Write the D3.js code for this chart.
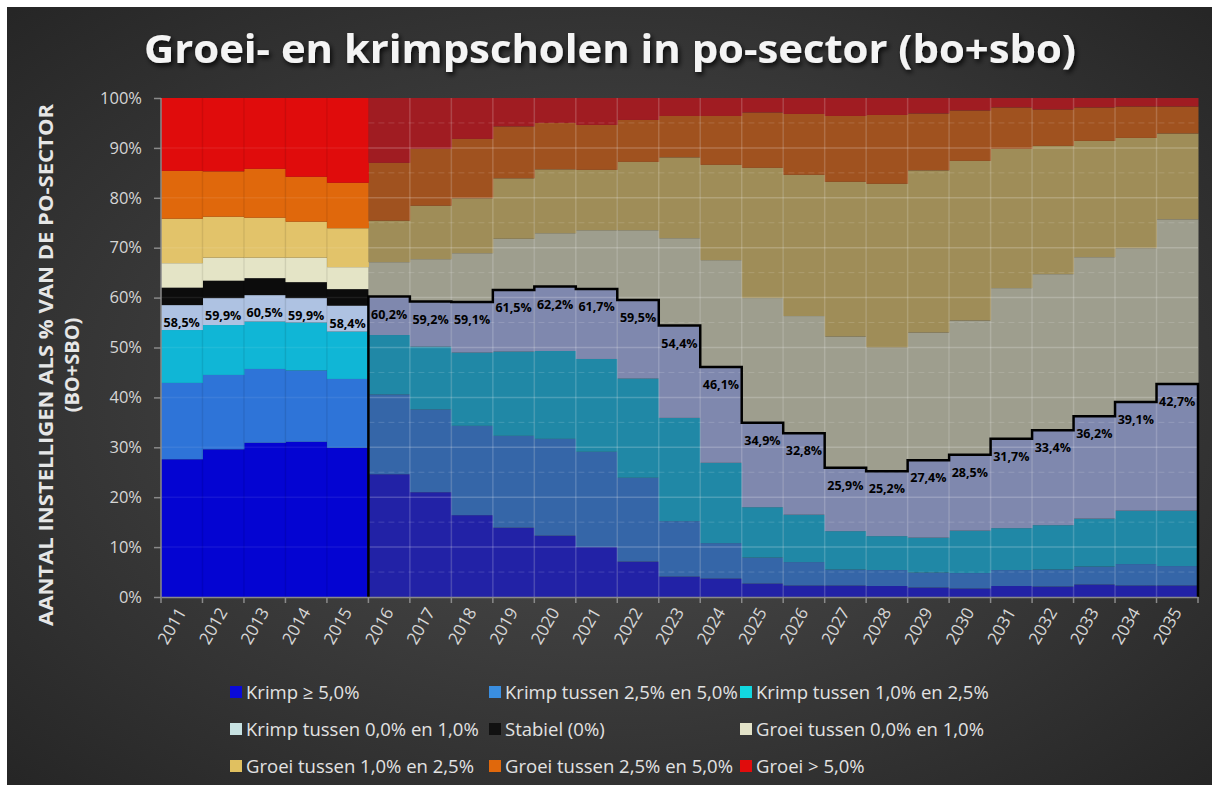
<!DOCTYPE html>
<html>
<head>
<meta charset="utf-8">
<script src="https://cdn.jsdelivr.net/npm/d3@7"></script>
<style>
  html, body { margin: 0; padding: 0; background: #fff; }
  svg { display: block; }
</style>
</head>
<body>
<div id="chart"></div>
<script>
// years 2011-2015 are measured, 2016-2035 are projections
var years = d3.range(2011, 2036).map(String);
var firstPrognose = "2016";

// share of schools per category (% of po-sector), bottom to top
var krimp5   = [27.6, 29.6, 30.9, 31.1, 29.9, 24.6, 21.0, 16.4, 13.9, 12.3, 10.0, 7.1, 4.1, 3.7, 2.7, 2.3, 2.3, 2.2, 1.9, 1.7, 2.2, 2.1, 2.5, 2.3, 2.3];
var krimp25  = [15.3, 14.9, 14.8, 14.3, 13.8, 16.0, 16.6, 17.9, 18.4, 19.4, 19.1, 16.8, 11.1, 7.1, 5.2, 4.7, 3.2, 3.2, 3.0, 3.1, 3.2, 3.4, 3.6, 4.3, 3.9];
var krimp1   = [10.6, 10.0, 9.5, 9.6, 9.5, 11.9, 12.6, 14.7, 16.9, 17.6, 18.6, 19.9, 20.7, 16.1, 10.1, 9.5, 7.7, 6.8, 7.0, 8.5, 8.4, 8.9, 9.6, 10.7, 11.1];
var krimp0   = [5.0, 5.4, 5.3, 4.9, 5.2, 7.7, 9.0, 10.1, 12.3, 12.9, 14.0, 15.7, 18.5, 19.2, 16.9, 16.3, 12.7, 13.0, 15.5, 15.2, 17.9, 19.0, 20.5, 21.8, 25.4];
var stabiel  = [3.5, 3.5, 3.4, 3.2, 3.3, 0, 0, 0, 0, 0, 0, 0, 0, 0, 0, 0, 0, 0, 0, 0, 0, 0, 0, 0, 0];
var groei0   = [4.9, 4.6, 4.1, 4.9, 4.4, 6.9, 8.5, 9.8, 10.3, 10.7, 11.8, 14.0, 17.5, 21.4, 25.0, 23.5, 26.3, 24.8, 25.6, 26.9, 30.2, 31.3, 31.9, 30.8, 33.0];
var groei1   = [8.9, 8.2, 8.0, 7.2, 7.8, 8.3, 10.7, 11.0, 12.1, 12.8, 12.1, 13.7, 16.2, 19.1, 26.1, 28.3, 31.0, 32.8, 32.5, 32.0, 27.9, 25.7, 23.3, 22.1, 17.2];
var groei25  = [9.6, 9.1, 9.8, 9.0, 9.1, 11.6, 11.4, 11.9, 10.4, 9.3, 9.0, 8.4, 8.3, 9.8, 11.1, 12.2, 13.2, 13.8, 11.4, 10.1, 8.3, 7.3, 6.7, 6.3, 5.4];
var groei5   = [14.6, 14.7, 14.2, 15.8, 17.0, 13.0, 10.2, 8.2, 5.7, 5.0, 5.4, 4.4, 3.6, 3.6, 2.9, 3.2, 3.6, 3.4, 3.1, 2.5, 1.9, 2.3, 1.9, 1.7, 1.7];

// total krimp, shown as label
var krimpTotaal = [58.5, 59.9, 60.5, 59.9, 58.4, 60.2, 59.2, 59.1, 61.5, 62.2, 61.7, 59.5, 54.4, 46.1, 34.9, 32.8, 25.9, 25.2, 27.4, 28.5, 31.7, 33.4, 36.2, 39.1, 42.7];

var keys = ["krimp5", "krimp25", "krimp1", "krimp0", "stabiel", "groei0", "groei1", "groei25", "groei5"];
var labels = ["Krimp \u2265 5,0%", "Krimp tussen 2,5% en 5,0%", "Krimp tussen 1,0% en 2,5%",
              "Krimp tussen 0,0% en 1,0%", "Stabiel (0%)", "Groei tussen 0,0% en 1,0%",
              "Groei tussen 1,0% en 2,5%", "Groei tussen 2,5% en 5,0%", "Groei > 5,0%"];
var yTicks = [0, 10, 20, 30, 40, 50, 60, 70, 80, 90, 100];

var colorsReal  = ["#0404d2", "#2e74d8", "#10b6d6", "#aec2e2", "#0c0c0c", "#e4e4c6", "#e2c36a", "#e0680c", "#e00c0c"];
var colorsProg  = ["#2222a6", "#3566a8", "#2088a6", "#7f88ae", "#222222", "#9e9e8e", "#9f8d58", "#a0521f", "#a01c22"];
var colorsLegend = ["#0a0ad8", "#3a8ee0", "#12d8e0", "#c8e2e2", "#111111", "#e2e2c8", "#e0c060", "#e0680c", "#e00c0c"];

var series = [krimp5, krimp25, krimp1, krimp0, stabiel, groei0, groei1, groei25, groei5];
var table = years.map(function (y, i) {
  var row = { year: y };
  keys.forEach(function (k, j) { row[k] = series[j][i]; });
  return row;
});

var W = 1212, H = 785;
var svg = d3.select("#chart").append("svg").attr("width", W).attr("height", H);

var defs = svg.append("defs");
var grad = defs.append("radialGradient").attr("id", "bg")
  .attr("cx", "50%").attr("cy", "50%").attr("r", "70%");
grad.append("stop").attr("offset", "0%").attr("stop-color", "#505050");
grad.append("stop").attr("offset", "100%").attr("stop-color", "#262626");

var shadow = defs.append("filter").attr("id", "shadow").attr("x", "-5%").attr("y", "-30%").attr("width", "110%").attr("height", "160%");
shadow.append("feDropShadow").attr("dx", 2).attr("dy", 3).attr("stdDeviation", 2.5)
  .attr("flood-color", "#000").attr("flood-opacity", 0.8);

svg.append("rect").attr("x", 7).attr("y", 7).attr("width", W - 7).attr("height", H - 7).attr("fill", "url(#bg)");

svg.append("text")
  .attr("x", 610).attr("y", 63)
  .attr("text-anchor", "middle")
  .attr("textLength", 932).attr("lengthAdjust", "spacingAndGlyphs")
  .style("font-family", "'Open Sans', sans-serif").style("font-weight", "bold").style("font-size", "39px")
  .style("fill", "#f4f4f4").attr("filter", "url(#shadow)")
  .text("Groei- en krimpscholen in po-sector (bo+sbo)");

var x = d3.scaleBand().domain(years).range([161, 1198]).padding(0);
var y = d3.scaleLinear().domain([0, 100]).range([597, 98]);

var stacked = d3.stack().keys(keys)(table);

var g = svg.append("g");
stacked.forEach(function (layer, j) {
  g.selectAll(".bar" + j)
    .data(layer)
    .enter().append("rect")
    .attr("x", function (d) { return x(d.data.year); })
    .attr("width", x.bandwidth() + 0.5)
    .attr("y", function (d) { return y(d[1]); })
    .attr("height", function (d) { return y(d[0]) - y(d[1]); })
    .attr("fill", function (d) { return d.data.year < firstPrognose ? colorsReal[j] : colorsProg[j]; });
});

// gridlines over bars
var xProg = x(firstPrognose), xEnd = x.range()[1], xStart = x.range()[0];
var grid = svg.append("g");
yTicks.slice(1, -1).forEach(function (t) {
  grid.append("line").attr("x1", xStart).attr("x2", xProg).attr("y1", y(t)).attr("y2", y(t))
    .attr("stroke", "#fff").attr("stroke-opacity", 0.07).attr("stroke-width", 1.5);
  grid.append("line").attr("x1", xProg).attr("x2", xEnd).attr("y1", y(t)).attr("y2", y(t))
    .attr("stroke", "#fff").attr("stroke-opacity", 0.2).attr("stroke-width", 1.5);
  grid.append("line").attr("x1", xProg).attr("x2", xEnd).attr("y1", y(t + 5)).attr("y2", y(t + 5))
    .attr("stroke", "#fff").attr("stroke-opacity", 0.15).attr("stroke-dasharray", "6,4");
});
grid.append("line").attr("x1", xProg).attr("x2", xEnd).attr("y1", y(5)).attr("y2", y(5))
  .attr("stroke", "#fff").attr("stroke-opacity", 0.15).attr("stroke-dasharray", "6,4");
years.forEach(function (yr) {
  if (yr === years[0] || yr === firstPrognose) return;
  var prog = yr > firstPrognose;
  grid.append("line").attr("x1", x(yr)).attr("x2", x(yr)).attr("y1", y(100)).attr("y2", y(0))
    .attr("stroke", prog ? "#fff" : "#000").attr("stroke-opacity", prog ? 0.18 : 0.08).attr("stroke-width", 1.5);
});

// black step line round the krimp part of the prognose
var progIdx = years.indexOf(firstPrognose);
var pts = [[xProg, y(0)]];
for (var i = progIdx; i < years.length; i++) {
  pts.push([x(years[i]), y(krimpTotaal[i])]);
  pts.push([x(years[i]) + x.bandwidth(), y(krimpTotaal[i])]);
}
pts.push([xEnd, y(0)]);
svg.append("path")
  .attr("d", d3.line()(pts))
  .attr("fill", "none").attr("stroke", "#000").attr("stroke-width", 2.5);

// labels
svg.append("g").selectAll("text")
  .data(years)
  .enter().append("text")
  .attr("x", function (d) { return x(d) + x.bandwidth() / 2; })
  .attr("y", function (d, i) { return y(krimpTotaal[i]) + 22; })
  .attr("text-anchor", "middle")
  .style("font-family", "'Open Sans', sans-serif").style("font-weight", "bold").style("font-size", "12.5px")
  .style("fill", "#000")
  .text(function (d, i) { return d3.format(".1f")(krimpTotaal[i]).replace(".", ",") + "%"; });

// axes
var yAxis = svg.append("g").attr("transform", "translate(" + xStart + ",0)")
  .call(d3.axisLeft(y).tickValues(yTicks).tickSize(7).tickPadding(12).tickFormat(function (d) { return d + "%"; }));
var xAxis = svg.append("g").attr("transform", "translate(0," + y(0) + ")")
  .call(d3.axisBottom(x).tickSize(0).tickFormat(""));
xAxis.selectAll(".tickmark").data(years.concat(["end"])).enter().append("line")
  .attr("x1", function (d) { return d === "end" ? xEnd : x(d); })
  .attr("x2", function (d) { return d === "end" ? xEnd : x(d); })
  .attr("y1", 0).attr("y2", 6);
[yAxis, xAxis].forEach(function (a) {
  a.selectAll("path.domain").attr("stroke", "#8a8a8a").attr("stroke-width", 1.5);
  a.selectAll("line").attr("stroke", "#8a8a8a").attr("stroke-width", 1.5);
  a.selectAll("text").style("font-family", "'Open Sans', sans-serif").style("font-size", "16.5px").style("fill", "#d6d6d6");
});
yAxis.selectAll("path.domain").attr("d", "M0," + y(0) + "V" + y(100));

svg.append("g").selectAll("text")
  .data(years)
  .enter().append("text")
  .attr("transform", function (d) { return "translate(" + (x(d) + x.bandwidth() / 2 + 5) + "," + (y(0) + 15) + ") rotate(-60)"; })
  .attr("text-anchor", "end")
  .style("font-family", "'Open Sans', sans-serif").style("font-size", "17px").style("fill", "#d6d6d6")
  .text(function (d) { return d; });

// y title
var yt = svg.append("g").attr("transform", "translate(53,365) rotate(-90)");
yt.append("text").attr("x", 0).attr("y", 0).attr("text-anchor", "middle")
  .attr("textLength", 522).attr("lengthAdjust", "spacingAndGlyphs")
  .style("font-family", "'Open Sans', sans-serif").style("font-weight", "bold").style("font-size", "20px").style("fill", "#e6e6e6")
  .text("AANTAL INSTELLIGEN ALS % VAN DE PO-SECTOR");
yt.append("text").attr("x", 0).attr("y", 26).attr("text-anchor", "middle")
  .style("font-family", "'Open Sans', sans-serif").style("font-weight", "bold").style("font-size", "20px").style("fill", "#e6e6e6")
  .text("(BO+SBO)");

// legend
var legX = [230, 489, 740], legY = [692, 729, 766];
var leg = svg.append("g").selectAll("g")
  .data(labels)
  .enter().append("g")
  .attr("transform", function (d, i) { return "translate(" + legX[i % 3] + "," + legY[Math.floor(i / 3)] + ")"; });
leg.append("rect").attr("x", 0).attr("y", -6).attr("width", 12).attr("height", 12)
  .attr("fill", function (d, i) { return colorsLegend[i]; });
leg.append("text").attr("x", 16).attr("y", 6.5)
  .style("font-family", "'Open Sans', sans-serif").style("font-size", "18.5px").style("fill", "#e2e2e2")
  .text(function (d) { return d; });
</script>
</body>
</html>
